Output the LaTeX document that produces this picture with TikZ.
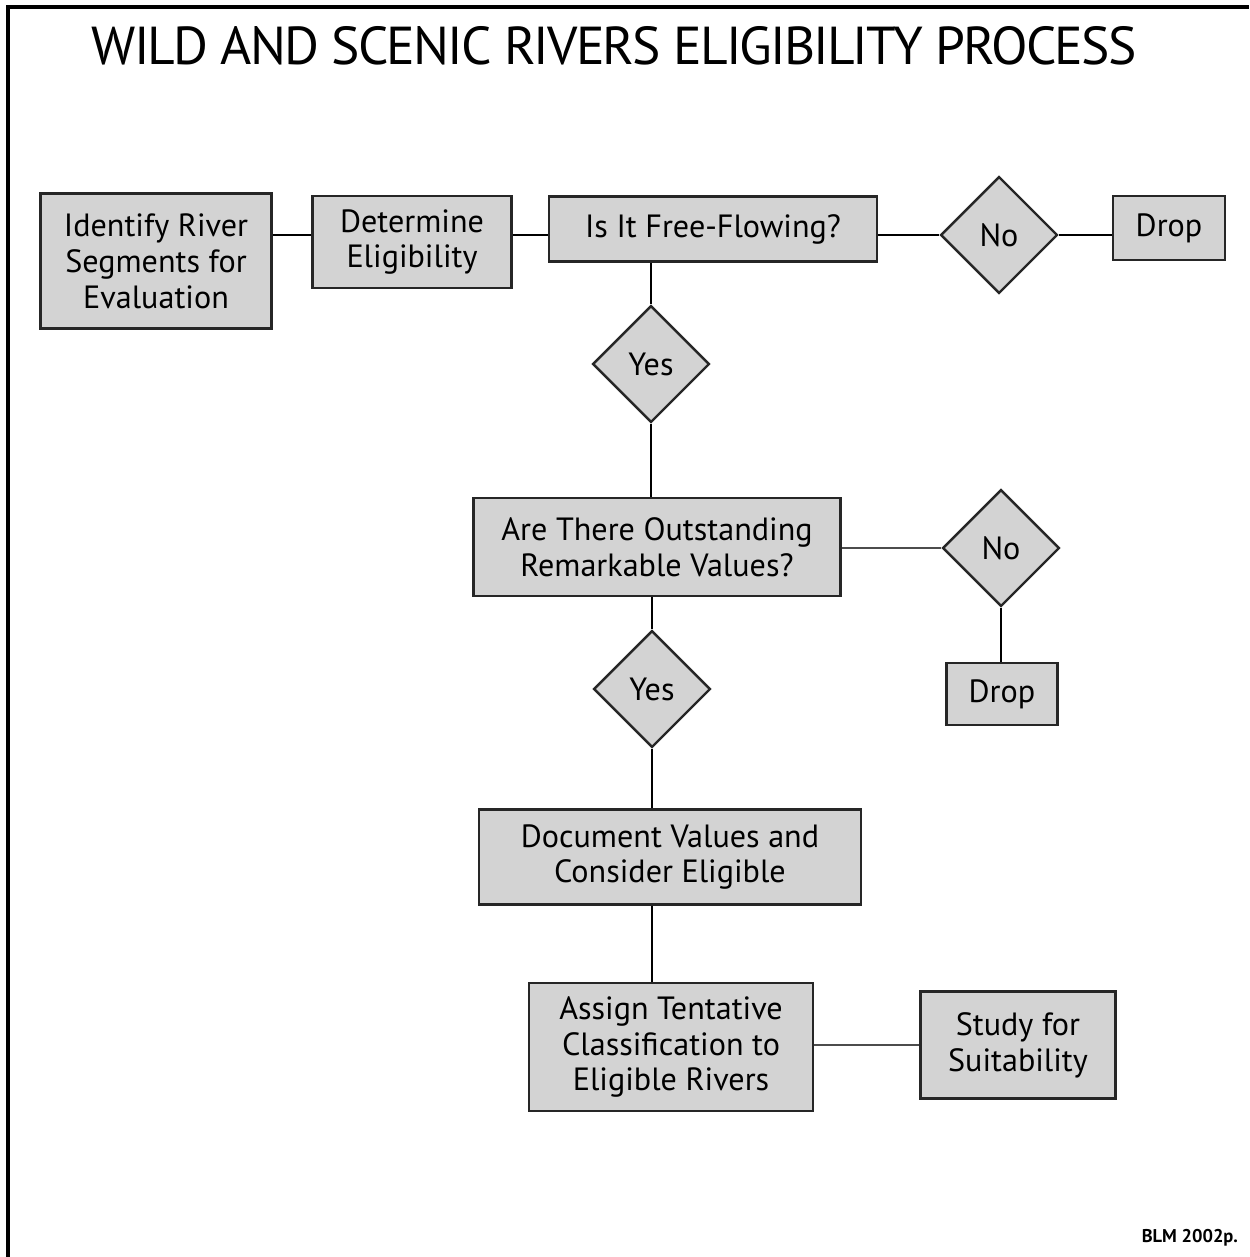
\documentclass[tikz,border=0pt]{standalone}
\usepackage{fontspec}
\setmainfont{PT Sans}
\newfontfamily\titlefont[LetterSpace=-3.5]{PT Sans}
\usetikzlibrary{shapes.geometric}
\definecolor{boxgray}{RGB}{211,211,211}
\tikzset{
  box/.style = {draw=black!85, fill=boxgray, line width=1.4pt, align=center,
    inner sep=0pt, font=\fontsize{18.3}{20.4}\selectfont},
  choice/.style = {diamond, draw=black!85, fill=boxgray, line width=1.4pt,
    inner sep=0pt, minimum width=2.34cm, minimum height=2.34cm,
    font=\fontsize{18.3}{20.4}\selectfont},
  link/.style = {line width=1.7pt},
  vlink/.style = {line width=1.2pt},
  thinlink/.style = {line width=0.9pt, black!70}
}

\begin{document}
\begin{tikzpicture}[x=0.02cm,y=-0.02cm]
  \useasboundingbox (0,0) rectangle (1249,1257);
  \draw[line width=2.3pt] (8,1257) -- (8,7) -- (1249,7);
  \node (title) at (614,46) {\titlefont\fontsize{30.4}{34}\selectfont WILD AND SCENIC RIVERS ELIGIBILITY PROCESS};

  % top row
  \node[box, minimum width=4.62cm, minimum height=2.70cm] (ident) at (156,261)
    {Identify River\\Segments for\\Evaluation};
  \node[box, minimum width=3.98cm, minimum height=1.84cm] (det) at (412,242)
    {Determine\\Eligibility};
  \node[box, minimum width=6.56cm, minimum height=1.30cm] (free) at (713,229)
    {Is It Free-Flowing?};
  \node[choice] (no1) at (999,235) {No};
  \node[box, minimum width=2.24cm, minimum height=1.28cm] (drop1) at (1169,228) {Drop};

  % middle
  \node[choice] (yes1) at (651,364) {Yes};
  \node[box, minimum width=7.34cm, minimum height=1.96cm] (values) at (657,547)
    {Are There Outstanding\\Remarkable Values?};
  \node[choice] (no2) at (1001,548) {No};
  \node[box, minimum width=2.22cm, minimum height=1.24cm] (drop2) at (1002,694) {Drop};
  \node[choice] (yes2) at (652,689) {Yes};

  % bottom
  \node[box, minimum width=7.64cm, minimum height=1.90cm] (doc) at (670,857)
    {Document Values and\\Consider Eligible};
  \node[box, minimum width=5.68cm, minimum height=2.56cm] (assign) at (671,1047)
    {Assign Tentative\\Classification to\\Eligible Rivers};
  \node[box, minimum width=3.90cm, minimum height=2.14cm] (study) at (1018,1045)
    {Study for\\Suitability};

  \node[anchor=south east, font=\fontsize{10.5}{12}\selectfont\bfseries] (blm) at (1244,1252) {BLM 2002p.};

  \draw[link] (ident.east |- no1) -- (det.west |- no1);
  \draw[link] (det.east |- no1) -- (free.west |- no1);
  \draw[link] (free.east |- no1) -- (no1.west);
  \draw[link] (no1.east) -- (drop1.west |- no1);
  \draw[vlink] (yes1.north |- free.south) -- (yes1.north);
  \draw[vlink] (yes1.south) -- (yes1.south |- values.north);
  \draw[thinlink] (values.east |- no2) -- (no2.west);
  \draw[vlink] (no2.south) -- (no2.south |- drop2.north);
  \draw[vlink] (yes2.north |- values.south) -- (yes2.north);
  \draw[vlink] (yes2.south) -- (yes2.south |- doc.north);
  \draw[vlink] (yes2.south |- doc.south) -- (yes2.south |- assign.north);
  \draw[thinlink] (assign.east |- study) -- (study.west);
\end{tikzpicture}
\end{document}
